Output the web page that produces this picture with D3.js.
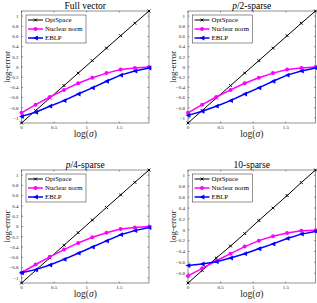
<!DOCTYPE html>
<html>
<head>
<meta charset="utf-8">
<script src="https://cdn.jsdelivr.net/npm/d3@7"></script>
<style>
  body { margin: 0; background: #fff; }
  svg text { font-family: "Liberation Serif", "DejaVu Serif", serif; }
</style>
</head>
<body>
<div id="container"></div>
<script>
// x positions, log(sigma)
var logSigma = [0, 0.217, 0.434, 0.652, 0.869, 1.086, 1.303, 1.52, 1.738, 1.955];
var seriesNames = ["OptSpace", "Nuclear norm", "EBLP"];
var xTicks = [0, 0.5, 1, 1.5];
var yTicks = [-1, -0.8, -0.6, -0.4, -0.2, 0, 0.2, 0.4, 0.6, 0.8, 1];

var titles = ["Full vector", "p/2-sparse", "p/4-sparse", "10-sparse"];

var optFull = [-1.1, -0.855, -0.61, -0.365, -0.12, 0.125, 0.37, 0.615, 0.86, 1.1];
var nucFull = [-0.9, -0.74, -0.59, -0.45, -0.32, -0.21, -0.12, -0.05, -0.02, 0.0];
var eblpFull = [-0.97, -0.89, -0.77, -0.66, -0.53, -0.41, -0.28, -0.16, -0.08, -0.02];

var optHalf = [-1.1, -0.855, -0.61, -0.365, -0.12, 0.125, 0.37, 0.615, 0.86, 1.1];
var nucHalf = [-0.9, -0.74, -0.59, -0.45, -0.32, -0.21, -0.12, -0.05, -0.02, 0.0];
var eblpHalf = [-0.95, -0.87, -0.77, -0.66, -0.53, -0.41, -0.28, -0.16, -0.08, -0.02];

var optQuarter = [-1.1, -0.855, -0.61, -0.365, -0.12, 0.125, 0.37, 0.615, 0.86, 1.1];
var nucQuarter = [-0.9, -0.74, -0.59, -0.45, -0.32, -0.21, -0.12, -0.05, -0.02, 0.0];
var eblpQuarter = [-0.9, -0.84, -0.75, -0.64, -0.52, -0.4, -0.28, -0.16, -0.08, -0.02];

var opt10 = [-0.98, -0.75, -0.52, -0.3, -0.07, 0.17, 0.4, 0.63, 0.87, 1.1];
var nuc10 = [-0.85, -0.71, -0.57, -0.44, -0.31, -0.2, -0.12, -0.06, -0.02, -0.01];
var eblp10 = [-0.66, -0.63, -0.59, -0.52, -0.44, -0.35, -0.26, -0.16, -0.08, -0.03];

var panelData = [
  [optFull, nucFull, eblpFull],
  [optHalf, nucHalf, eblpHalf],
  [optQuarter, nucQuarter, eblpQuarter],
  [opt10, nuc10, eblp10]
];

const main = function(){
  var width = 317, height = 303;
  var svg = d3.select('#container').append('svg')
    .attr('width', width).attr('height', height);

  var colors = ["#000000", "#ff00ff", "#0000ff"];
  var widths = [1, 1.5, 1.5];

  // plot boxes
  var boxes = [
    {x0: 21.5, x1: 149, y0: 11, y1: 123},
    {x0: 188, x1: 315.5, y0: 11, y1: 123},
    {x0: 21.5, x1: 149, y0: 170, y1: 283},
    {x0: 188, x1: 315.5, y0: 170, y1: 283}
  ];

  boxes.forEach(function(b, i){
    var data = panelData[i];
    var all = d3.merge(data);
    var x = d3.scaleLinear().domain([0, 1.955]).range([b.x0, b.x1]);
    var y = d3.scaleLinear().domain(d3.extent(all)).range([b.y1, b.y0]);

    var g = svg.append('g');

    g.append('rect')
      .attr('x', b.x0).attr('y', b.y0)
      .attr('width', b.x1 - b.x0).attr('height', b.y1 - b.y0)
      .attr('fill', '#fff').attr('stroke', '#262626').attr('stroke-width', 0.5);

    var yt = yTicks.filter(function(t){ return t >= y.domain()[0] - 1e-9 && t <= y.domain()[1] + 1e-9; });

    // ticks (inside, both sides)
    var tl = 1.5;
    g.selectAll('.yt').data(yt).enter().append('path')
      .attr('d', function(t){
        return 'M' + b.x0 + ',' + y(t) + 'h' + tl + 'M' + b.x1 + ',' + y(t) + 'h' + (-tl);
      })
      .attr('stroke', '#262626').attr('stroke-width', 0.5);
    g.selectAll('.xt').data(xTicks).enter().append('path')
      .attr('d', function(t){
        return 'M' + x(t) + ',' + b.y1 + 'v' + (-tl) + 'M' + x(t) + ',' + b.y0 + 'v' + tl;
      })
      .attr('stroke', '#262626').attr('stroke-width', 0.5);

    g.selectAll('.ytl').data(yt).enter().append('text')
      .attr('x', b.x0 - 3).attr('y', function(t){ return y(t) + 1.8; })
      .attr('text-anchor', 'end')
      .attr('font-size', 5).attr('fill', '#262626')
      .text(function(t){ return d3.format('')(t); });
    g.selectAll('.xtl').data(xTicks).enter().append('text')
      .attr('x', function(t){ return x(t); }).attr('y', b.y1 + 6)
      .attr('text-anchor', 'middle')
      .attr('font-size', 5).attr('fill', '#262626')
      .text(function(t){ return t; });

    // axis labels
    var xl = g.append('text')
      .attr('x', (b.x0 + b.x1) / 2).attr('y', b.y1 + 14)
      .attr('text-anchor', 'middle').attr('font-size', 9.5).attr('fill', '#262626');
    xl.append('tspan').text('log(');
    xl.append('tspan').attr('font-style', 'italic').text('σ');
    xl.append('tspan').text(')');

    g.append('text')
      .attr('transform', 'translate(' + (b.x0 - 12) + ',' + ((b.y0 + b.y1) / 2) + ') rotate(-90)')
      .attr('text-anchor', 'middle').attr('font-size', 9).attr('fill', '#262626')
      .text('log-error');

    // title
    var tt = g.append('text')
      .attr('x', (b.x0 + b.x1) / 2).attr('y', b.y0 - 2.5)
      .attr('text-anchor', 'middle').attr('font-size', 9.5).attr('fill', '#000');
    if (titles[i].indexOf('p/') === 0) {
      tt.append('tspan').attr('font-style', 'italic').text('p');
      tt.append('tspan').text(titles[i].slice(1));
    } else {
      tt.text(titles[i]);
    }

    // lines
    data.forEach(function(vals, s){
      var pts = vals.map(function(v, k){ return [logSigma[k], v]; });
      var line = d3.line().x(function(d){ return x(d[0]); }).y(function(d){ return y(d[1]); });
      g.append('path').datum(pts)
        .attr('d', line).attr('fill', 'none')
        .attr('stroke', colors[s]).attr('stroke-width', widths[s]);
      drawMarkers(g, pts.map(function(d){ return [x(d[0]), y(d[1])]; }), s);
    });

    // legend
    var lx = b.x0 + 4.5, ly = b.y0 + 4, lw = 60, lh = 28;
    var lg = g.append('g');
    lg.append('rect').attr('x', lx).attr('y', ly).attr('width', lw).attr('height', lh)
      .attr('fill', '#fff').attr('stroke', '#262626').attr('stroke-width', 0.5);
    seriesNames.forEach(function(name, s){
      var yy = ly + 5 + s * 9;
      lg.append('path').attr('d', 'M' + (lx + 2) + ',' + yy + 'h15')
        .attr('stroke', colors[s]).attr('stroke-width', widths[s]);
      drawMarkers(lg, [[lx + 9.5, yy]], s);
      lg.append('text').attr('x', lx + 19).attr('y', yy + 2.3)
        .attr('font-size', 6.8).attr('fill', '#000').text(name);
    });
  });

  function drawMarkers(g, pts, s){
    if (s === 0) {
      g.selectAll(null).data(pts).enter().append('path')
        .attr('d', function(d){
          var r = 1.4;
          return 'M' + (d[0] - r) + ',' + (d[1] - r) + 'l' + 2 * r + ',' + 2 * r +
                 'M' + (d[0] - r) + ',' + (d[1] + r) + 'l' + 2 * r + ',' + (-2 * r);
        })
        .attr('stroke', '#000').attr('stroke-width', 1);
    } else if (s === 1) {
      g.selectAll(null).data(pts).enter().append('circle')
        .attr('cx', function(d){ return d[0]; }).attr('cy', function(d){ return d[1]; })
        .attr('r', 2).attr('fill', '#ff00ff');
    } else {
      g.selectAll(null).data(pts).enter().append('path')
        .attr('d', function(d){
          var r = 2.4;
          return 'M' + (d[0] - r) + ',' + d[1] + 'L' + (d[0] + r) + ',' + (d[1] - r) +
                 'L' + (d[0] + r) + ',' + (d[1] + r) + 'Z';
        })
        .attr('fill', '#0000ff');
    }
  }
}

main();
</script>
</body>
</html>
